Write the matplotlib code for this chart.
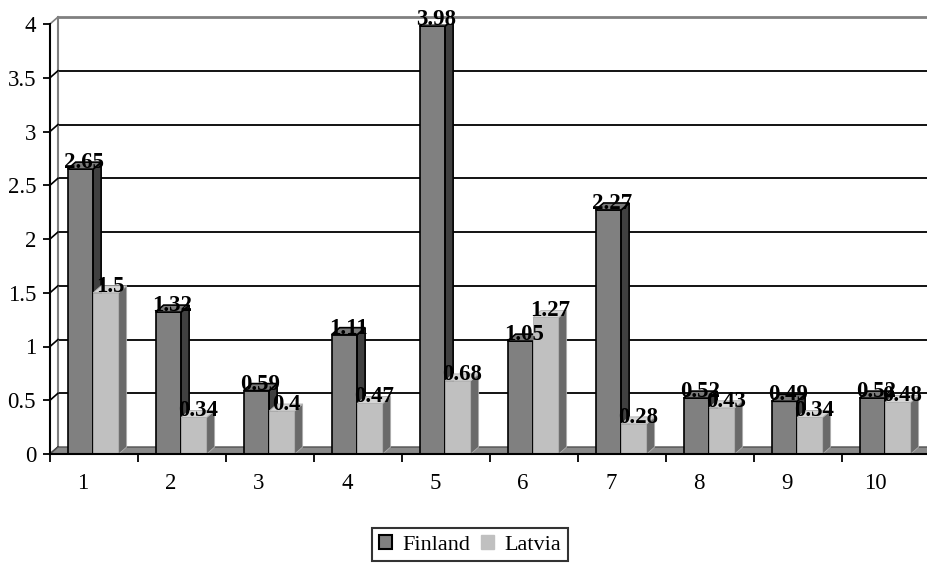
import matplotlib.pyplot as plt
from matplotlib.patches import Polygon, Patch
from matplotlib.transforms import offset_copy

categorias = ['1', '2', '3', '4', '5', '6', '7', '8', '9', '10']
finland = [2.65, 1.32, 0.59, 1.11, 3.98, 1.05, 2.27, 0.52, 0.49, 0.52]
latvia = [1.5, 0.34, 0.4, 0.47, 0.68, 1.27, 0.28, 0.43, 0.34, 0.48]
y_ticks = [0, 0.5, 1, 1.5, 2, 2.5, 3, 3.5, 4]
y_labels = ['0', '0.5', '1', '1.5', '2', '2.5', '3', '3.5', '4']

plt.rcParams['font.family'] = ['Liberation Serif', 'DejaVu Serif']

W, H = 928, 564
fig = plt.figure(figsize=(W / 100, H / 100), dpi=100)
ax = fig.add_axes([50 / W, 110 / H, 880 / W, 430 / H])
ax.set_xlim(0.5, 10.5)
ax.set_ylim(0, 4)
ax.patch.set_visible(False)

# profundidade do efeito 3D (pixels) convertida para unidades de dados
DX, DY = 8, 7
dx = DX / (880 / 10.0)
dy = DY / (430 / 4.0)

# parede do fundo e linhas de grade
for v in y_ticks[1:]:
    cor = '#808080' if v == 4 else 'black'
    ax.plot([0.5 + dx, 10.5 + dx], [v + dy, v + dy], color=cor,
            lw=2 if v == 4 else 1.3, clip_on=False, zorder=1)
ax.plot([0.5 + dx, 0.5 + dx], [dy, 4 + dy], color='#808080', lw=1.5, clip_on=False, zorder=1)
# parede lateral
for v in y_ticks:
    cor = '#808080' if v == 4 else 'black'
    ax.plot([0.5, 0.5 + dx], [v, v + dy], color=cor, lw=1.2, clip_on=False, zorder=1)

# piso
piso = Polygon([(0.5, 0), (10.5, 0), (10.5 + dx, dy), (0.5 + dx, dy)],
               closed=True, fc='#8a8a8a', ec='#505050', lw=1, clip_on=False, zorder=1.5)
ax.add_patch(piso)

largura = 0.29
xs = list(range(1, len(categorias) + 1))
series = [
    (finland, -0.30, '#808080', '#404040', '#7a7a7a', 'black', 1.2),
    (latvia, -0.01, '#c0c0c0', '#6a6a6a', '#d6d6d6', '#b0b0b0', 0.6),
]

z = 3
for i, c in enumerate(xs):
    for valores, desloc, frente, lado, topo, borda, lw in series:
        v = valores[i]
        x0 = c + desloc
        x1 = x0 + largura
        ax.bar(x0, v, width=largura, align='edge', color=frente, edgecolor=borda,
               linewidth=lw, zorder=z)
        ax.add_patch(Polygon([(x1, 0), (x1 + dx, dy), (x1 + dx, v + dy), (x1, v)],
                             closed=True, fc=lado, ec=borda, lw=lw, zorder=z))
        ax.add_patch(Polygon([(x0, v), (x1, v), (x1 + dx, v + dy), (x0 + dx, v + dy)],
                             closed=True, fc=topo, ec=borda, lw=lw, zorder=z))
        z += 1

# rótulos de valor
trans_rot = offset_copy(ax.transData, fig=fig, x=DX / 2, y=1, units='dots')
for valores, desloc, *_ in series:
    for c, v in zip(xs, valores):
        ax.text(c + desloc + largura / 2, v, f'{v:g}', transform=trans_rot,
                ha='center', va='baseline', fontsize=16.5, fontweight='bold', zorder=50)

# eixos
for lado_ in ['top', 'right']:
    ax.spines[lado_].set_visible(False)
ax.spines['left'].set_bounds(0, 4)
ax.spines['bottom'].set_bounds(0.5, 10.5)
for s in ['left', 'bottom']:
    ax.spines[s].set_linewidth(1.5)
    ax.spines[s].set_zorder(40)

ax.set_yticks(y_ticks)
ax.set_yticklabels(y_labels)
ax.tick_params(axis='y', length=5, width=1.3, pad=5, labelsize=16.5)

ax.set_xticks([c - 0.125 for c in xs])
ax.set_xticklabels(categorias)
ax.set_xticks([b + 0.5 for b in range(0, 11)], minor=True)
ax.tick_params(axis='x', which='major', length=0, pad=14, labelsize=16.5)
ax.tick_params(axis='x', which='minor', length=6, width=1.3)

handles = [Patch(fc='#808080', ec='black', lw=1.5, label='Finland'),
           Patch(fc='#c0c0c0', ec='#c0c0c0', lw=1, label='Latvia')]
leg = fig.legend(handles=handles, loc='upper left', bbox_to_anchor=(372 / W, 1 - 528 / H),
                 ncol=2, frameon=True, fancybox=False, edgecolor='black', fontsize=16,
                 handlelength=0.6, handleheight=0.6, handletextpad=0.45,
                 columnspacing=0.5, borderpad=0.3, borderaxespad=0)
leg.get_frame().set_linewidth(1.5)

fig.savefig('out.png', dpi=100)
